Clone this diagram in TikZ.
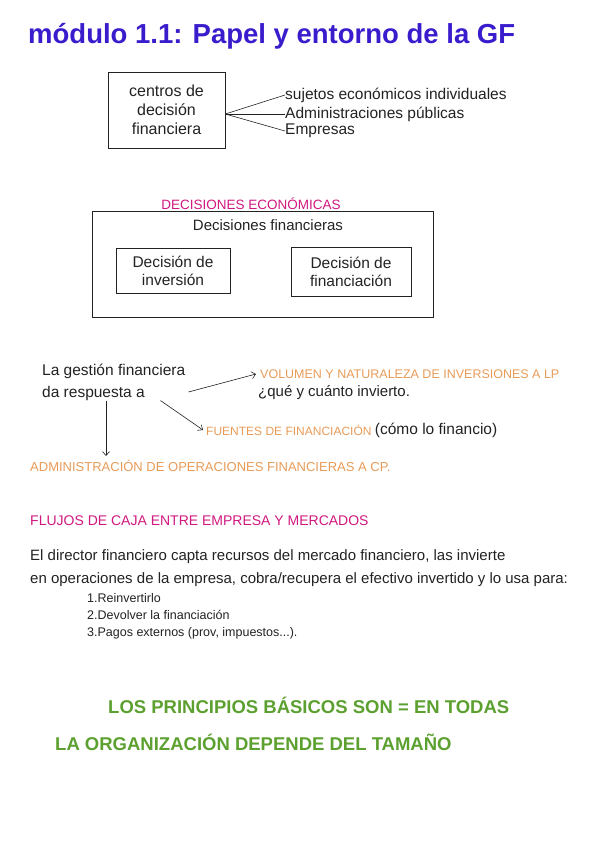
\documentclass[tikz,border=0pt]{standalone}
\usepackage{fontspec}
\setmainfont{Liberation Sans}
\usetikzlibrary{positioning, arrows.meta}
\definecolor{titleblue}{RGB}{58,28,205}
\definecolor{pinkink}{RGB}{208,24,128}
\definecolor{orangeink}{RGB}{232,155,88}
\definecolor{greenink}{RGB}{92,160,48}
\definecolor{inkgray}{RGB}{34,34,34}
\newcommand{\fsz}[1]{\fontsize{#1}{1.2\dimexpr#1pt\relax}\selectfont}
\begin{document}
\begin{tikzpicture}[
		x=1pt, y=-1pt,
		font=\fsz{15},
		txt/.style={anchor=west, inner sep=0pt, text=inkgray},
		caps/.style={anchor=west, inner sep=0pt},
		box/.style={rectangle, draw=inkgray, semithick, align=center, text=inkgray},
		arr/.style={-{Straight Barb[length=4pt, width=7pt]}, semithick, draw=inkgray}
	]
		\useasboundingbox (0,0) rectangle (600,848);
		\node[anchor=west, inner sep=0pt, text=titleblue, font=\fsz{27.5}\bfseries] (title) at (28,36) {módulo 1.1: Papel y entorno de la GF};
		% centros de decision
		\node[box, font=\fontsize{16}{19}\selectfont, minimum width=117, minimum height=76] (centros) at (166.5,110) {centros de\\decisión\\financiera};
		\node[txt, font=\fsz{15.5}] (sujetos) at (285,95) {sujetos económicos individuales};
		\node[txt, font=\fsz{15.5}] (admpub) at (285,114) {Administraciones públicas};
		\node[txt, font=\fsz{15.5}] (empresas) at (285,131) {Empresas};
		\draw[semithick, inkgray] ([yshift=-4pt]centros.east) -- (sujetos.west);
		\draw[semithick, inkgray] ([yshift=-4pt]centros.east) -- (admpub.west);
		\draw[semithick, inkgray] ([yshift=-4pt]centros.east) -- (empresas.west);
		% decisiones economicas
		\node[caps, anchor=center, text=pinkink, font=\fsz{13.5}] (econlbl) at (251,204) {DECISIONES ECONÓMICAS};
		\node[box, minimum width=341, minimum height=106] (econ) at (262.5,264) {};
		\node[txt, anchor=center] (finlbl) at (268,225) {Decisiones financieras};
		\node[box, font=\fontsize{15.5}{18}\selectfont, minimum width=114, minimum height=45] (inv) at (173,270.5) {Decisión de\\inversión};
		\node[box, font=\fontsize{15.5}{18}\selectfont, minimum width=120, minimum height=49] (fin) at (351,271.5) {Decisión de\\financiación};
		% gestion financiera
		\node[txt, align=left, font=\fontsize{15.5}{22}\selectfont] (gestion) at (42,382) {La gestión financiera\\da respuesta a};
		\node[caps, text=orangeink, font=\fsz{12.5}] (volumen) at (260,374) {VOLUMEN Y NATURALEZA DE INVERSIONES A LP};
		\node[txt] (cuanto) at (258,393) {¿qué y cuánto invierto.};
		\node[caps, text=orangeink, font=\fsz{12}] (fuentes) at (206,430) {FUENTES DE FINANCIACIÓN};
		\node[txt, font=\fsz{15.5}, right=3pt of fuentes] (como) {(cómo lo financio)};
		\node[caps, text=orangeink, font=\fsz{13}] (adcp) at (30,466) {ADMINISTRACIÓN DE OPERACIONES FINANCIERAS A CP.};
		\coordinate (adtop) at (106,456);
		\draw[arr] ([xshift=3pt,yshift=-10pt]gestion.east) -- ([xshift=-4pt]volumen.west);
		\draw[arr] ([xshift=-25pt]gestion.south east) -- ([xshift=-3pt]fuentes.west);
		\draw[arr] (gestion.south -| adtop) -- (adtop);
		% flujos de caja
		\node[caps, text=pinkink, font=\fsz{14}] (flujos) at (30,521) {FLUJOS DE CAJA ENTRE EMPRESA Y MERCADOS};
		\node[txt] (par1) at (30,557) {El director financiero capta recursos del mercado financiero, las invierte};
		\node[txt] (par2) at (30,580) {en operaciones de la empresa, cobra/recupera el efectivo invertido y lo usa para:};
		\node[txt, font=\fsz{12.5}] (item1) at (87,598) {1.Reinvertirlo};
		\node[txt, font=\fsz{12.5}] (item2) at (87,615) {2.Devolver la financiación};
		\node[txt, font=\fsz{12.5}] (item3) at (87,633) {3.Pagos externos (prov, impuestos...).};
		% principios
		\node[anchor=west, inner sep=0pt, text=greenink, font=\fsz{18.5}\bfseries] (principios) at (108,705) {LOS PRINCIPIOS BÁSICOS SON = EN TODAS};
		\node[anchor=west, inner sep=0pt, text=greenink, font=\fsz{18.5}\bfseries] (organiz) at (55,742) {LA ORGANIZACIÓN DEPENDE DEL TAMAÑO};
	\end{tikzpicture}
\end{document}
